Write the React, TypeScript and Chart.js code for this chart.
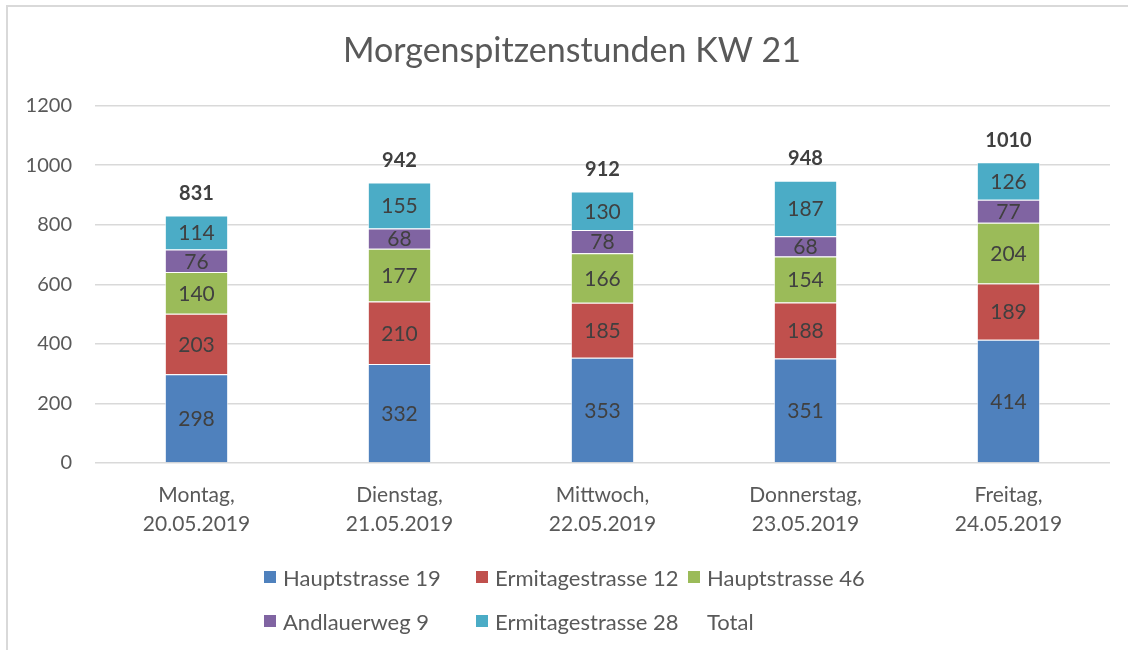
import React, { useEffect, useRef } from "react";
import { Chart, registerables } from "chart.js";

Chart.register(...registerables);

const categories = [
  ["Montag,", "20.05.2019"],
  ["Dienstag,", "21.05.2019"],
  ["Mittwoch,", "22.05.2019"],
  ["Donnerstag,", "23.05.2019"],
  ["Freitag,", "24.05.2019"],
];
const seriesNames = [
  "Hauptstrasse 19",
  "Ermitagestrasse 12",
  "Hauptstrasse 46",
  "Andlauerweg 9",
  "Ermitagestrasse 28",
];
const hauptstrasse19 = [298, 332, 353, 351, 414];
const ermitagestrasse12 = [203, 210, 185, 188, 189];
const hauptstrasse46 = [140, 177, 166, 154, 204];
const andlauerweg9 = [76, 68, 78, 68, 77];
const ermitagestrasse28 = [114, 155, 130, 187, 126];
const totals = [831, 942, 912, 948, 1010];
const totalName = "Total";
const seriesColors = ["#4F81BD", "#C0504D", "#9BBB59", "#8064A2", "#4BACC6"];
const yMin = 0;
const yMax = 1200;
const yStep = 200;
const title = "Morgenspitzenstunden KW 21";

const FONT = "Lato, 'Open Sans', 'DejaVu Sans', sans-serif";

const labelPlugin = {
  id: "valueLabels",
  afterDatasetsDraw(chart: any) {
    const ctx = chart.ctx;
    ctx.save();
    ctx.textAlign = "center";
    ctx.textBaseline = "middle";
    chart.data.datasets.forEach((ds: any, i: number) => {
      const meta = chart.getDatasetMeta(i);
      meta.data.forEach((el: any, j: number) => {
        const v = ds.data[j];
        if (ds.type === "line") {
          ctx.font = `bold 20px ${FONT}`;
          ctx.fillStyle = "#404040";
          ctx.fillText(String(v), el.x, el.y - 22);
        } else {
          const p = el.getProps(["x", "y", "base"], true);
          ctx.font = `21px ${FONT}`;
          ctx.fillStyle = "#404040";
          ctx.fillText(String(v), p.x, (p.y + p.base) / 2 + 1);
        }
      });
    });
    ctx.restore();
  },
};

const titlePlugin = {
  id: "frameTitle",
  afterDraw(chart: any) {
    const ctx = chart.ctx;
    ctx.save();
    ctx.font = `34px ${FONT}`;
    ctx.fillStyle = "#595959";
    ctx.textAlign = "center";
    ctx.textBaseline = "middle";
    ctx.fillText(title, 572, 51.5);
    ctx.restore();
  },
};

export default function App() {
  const canvasRef = useRef<HTMLCanvasElement | null>(null);

  useEffect(() => {
    if (!canvasRef.current) return;
    const seriesData = [
      hauptstrasse19,
      ermitagestrasse12,
      hauptstrasse46,
      andlauerweg9,
      ermitagestrasse28,
    ];
    const datasets: any[] = seriesData.map((d, i) => ({
      type: "bar",
      label: seriesNames[i],
      data: d,
      backgroundColor: seriesColors[i],
      borderColor: "rgba(255,255,255,0.7)",
      borderWidth: 1,
      stack: "s",
      categoryPercentage: 1,
      barPercentage: 0.312,
      order: 1,
    }));
    datasets.push({
      type: "line",
      label: totalName,
      data: totals,
      showLine: false,
      pointRadius: 0,
      pointHoverRadius: 0,
      borderColor: "rgba(0,0,0,0)",
      backgroundColor: "rgba(0,0,0,0)",
      stack: "total",
      order: 0,
    });

    const chart = new Chart(canvasRef.current, {
      type: "bar",
      data: { labels: categories as any, datasets },
      options: {
        responsive: false,
        animation: false,
        devicePixelRatio: 1,
        layout: { padding: { left: 0, right: 18, top: 105.6, bottom: 87 } },
        plugins: {
          legend: { display: false },
          tooltip: { enabled: false },
          title: { display: false },
        },
        scales: {
          x: {
            stacked: true,
            grid: { display: false },
            border: { display: false },
            ticks: {
              color: "#595959",
              font: { family: FONT, size: 21, lineHeight: 1.36 },
              padding: 10,
              maxRotation: 0,
              autoSkip: false,
            },
            afterFit: (s: any) => {
              s.height = 100;
            },
          },
          y: {
            stacked: true,
            min: yMin,
            max: yMax,
            grid: { color: "#d9d9d9", lineWidth: 1.5, drawTicks: false },
            border: { display: false },
            ticks: {
              stepSize: yStep,
              color: "#595959",
              font: { family: FONT, size: 20 },
              padding: 23,
              callback: (v: any) => String(v),
            },
            afterFit: (s: any) => {
              s.width = 95;
            },
          },
        },
      },
      plugins: [labelPlugin, titlePlugin],
    });
    return () => chart.destroy();
  }, []);

  const legendItems = [
    ...seriesNames.map((n, i) => ({ name: n, color: seriesColors[i] })),
    { name: totalName, color: "" },
  ];
  const colLefts = [264, 476, 688];
  const rowCenters = [577, 621];

  return (
    <div
      style={{
        position: "absolute",
        left: 0,
        top: 0,
        width: 1128,
        height: 650,
        overflow: "hidden",
        background: "#ffffff",
      }}
    >
      <div
        style={{
          position: "absolute",
          left: 6,
          top: 5,
          width: 1140,
          height: 660,
          borderLeft: "2px solid #d9d9d9",
          borderTop: "2px solid #d9d9d9",
        }}
      />
      <canvas
        ref={canvasRef}
        width={1128}
        height={650}
        style={{ position: "absolute", left: 0, top: 0, width: 1128, height: 650 }}
      />
      {legendItems.map((it, i) => (
        <div
          key={it.name}
          style={{
            position: "absolute",
            left: colLefts[i % 3],
            top: rowCenters[Math.floor(i / 3)] - 13,
            height: 26,
            display: "flex",
            alignItems: "center",
            fontFamily: FONT,
            fontSize: 22,
            color: "#595959",
            whiteSpace: "nowrap",
          }}
        >
          <span
            style={{
              display: "inline-block",
              width: 12,
              height: 12,
              marginRight: 7,
              background: it.color || "transparent",
            }}
          />
          <span>{it.name}</span>
        </div>
      ))}
    </div>
  );
}
